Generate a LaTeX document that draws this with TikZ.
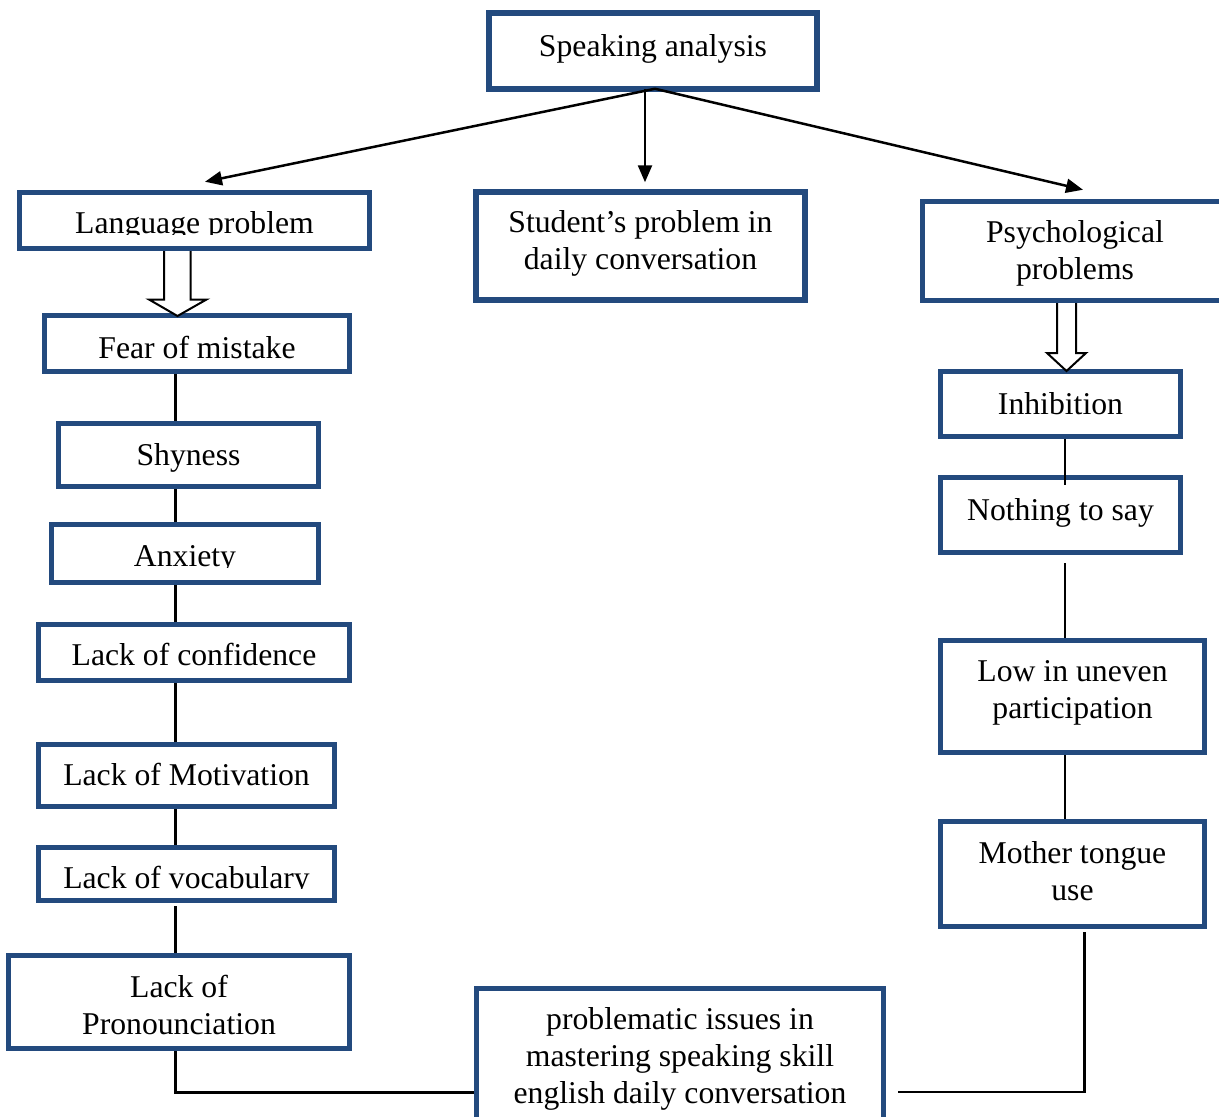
\documentclass[tikz,border=0pt]{standalone}
\usepackage{fontspec}
\setmainfont{Liberation Serif}
\usetikzlibrary{arrows.meta,calc}
\definecolor{boxblue}{RGB}{35,74,126}
\newcommand\mydp[1]{\rule[-#1]{0pt}{#1}}
\newcommand\myht[1]{\rule{0pt}{#1}}
\begin{document}
\begin{tikzpicture}[x=1pt,y=-1pt,
  box/.style={draw=boxblue, line width=5.5pt, fill=white, rectangle, inner sep=0pt,
    text height=23pt, text depth=0pt, font=\fontsize{31.7}{37}\selectfont},
  mbox/.style={draw=boxblue, line width=5.5pt, fill=white, rectangle, inner sep=0pt,
    align=center, font=\fontsize{31.7}{37}\selectfont},
  conn/.style={line width=3pt, draw=black},
  thinconn/.style={line width=2pt, draw=black},
  arr/.style={line width=2.5pt, draw=black, -{Triangle[length=17pt,width=14pt]}},
  hollow/.style={draw=black, line width=2pt, fill=white, line join=miter}]
\useasboundingbox (0,0) rectangle (1219,1117);
\clip (0,0) rectangle (1219,1117);

% top
\node[box, minimum width=328, minimum height=76, text height=10pt] (speak) at (653,51) {Speaking analysis};

% left column
\node[box, minimum width=350, minimum height=56, text height=25pt] (lang) at (194.5,220.5) {Language problem};
\node[box, minimum width=305, minimum height=56, text height=29pt] (fear) at (197,343.5) {Fear of mistake};
\node[box, minimum width=260, minimum height=63, text height=21pt] (shy) at (188.5,455) {Shyness};
\node[box, minimum width=267, minimum height=58, text height=25pt] (anx) at (185,553.5) {Anxiety};
\node[box, minimum width=311, minimum height=56, text height=25pt] (conf) at (194,652.5) {Lack of confidence};
\node[box, minimum width=296, minimum height=62, text height=19pt] (motiv) at (186.5,775.5) {Lack of Motivation};
\node[box, minimum width=296, minimum height=53, text height=28pt] (vocab) at (186.5,874) {Lack of vocabulary};
\node[mbox, minimum width=341, minimum height=93] (pron) at (179,1002) {\myht{27.7pt}Lack of\\Pronounciation};

% middle
\node[mbox, minimum width=329, minimum height=108] (stud) at (640.5,246) {Student’s problem in\\daily conversation\mydp{12pt}};
\node[mbox, minimum width=407, minimum height=141] (issues) at (680,1059) {problematic issues in\\mastering speaking skill\\english daily conversation};

% right column
\node[mbox, minimum width=305, minimum height=99] (psych) at (1075,251) {\myht{27.7pt}Psychological\\problems};
\node[box, minimum width=240, minimum height=65, text height=20pt] (inhib) at (1060.5,404) {Inhibition};
\node[box, minimum width=240, minimum height=75, text height=10pt] (noth) at (1060.5,515) {Nothing to say};
\node[mbox, minimum width=264, minimum height=112] (low) at (1072.5,696.5) {Low in uneven\\participation\mydp{14pt}};
\node[mbox, minimum width=264, minimum height=105] (moth) at (1072.5,874) {Mother tongue\\use\mydp{6pt}};

% descenders cut off inside some boxes, as printed
\fill[white] ($(lang.south west)+(5.5,-5.5)$) rectangle ($(lang.east)+(-5.5,14)$);
\fill[white] ($(anx.south west)+(5.5,-5.5)$) rectangle ($(anx.east)+(-5.5,14.5)$);
\fill[white] ($(vocab.south west)+(5.5,-5.5)$) rectangle ($(vocab.east)+(-5.5,14.5)$);

% arrows from the top box
\coordinate (apex) at ($(speak.south)+(2,-3)$);
\coordinate (tl) at ($(lang.north)+(10.5,-8)$);
\coordinate (tm) at ($(stud.north)+(4.5,-7)$);
\coordinate (tr) at ($(psych.north)+(8,-9)$);
\draw[arr] (apex) -- (tl);
\draw[arr] (apex -| tm) -- (tm);
\draw[arr] (apex) -- (tr);

% hollow block arrows
\draw[hollow] (164,251) -- (164,299.5) -- (149,299.5) -- (177.5,316) -- (206.5,299.5) -- (190.5,299.5) -- (190.5,251);
\draw[hollow] (1057,303) -- (1057,353) -- (1047,353) -- (1066.5,371) -- (1086,353) -- (1076,353) -- (1076,303);

% left chain
\coordinate (lx) at (175,0);
\coordinate (by) at (0,1092);
\draw[conn] (fear.south -| lx) -- (shy.north -| lx);
\draw[conn] (shy.south -| lx) -- (anx.north -| lx);
\draw[conn] (anx.south -| lx) -- (conf.north -| lx);
\draw[conn] (conf.south -| lx) -- (motiv.north -| lx);
\draw[conn] (motiv.south -| lx) -- (vocab.north -| lx);
\draw[conn, shorten <=3pt] (vocab.south -| lx) -- (pron.north -| lx);
\draw[conn] (pron.south -| lx) |- (issues.west |- by);

% right chain
\coordinate (rx) at (1065,0);
\coordinate (rx2) at (1084.5,0);
\draw[thinconn, shorten >=-10pt] (inhib.south -| rx) -- (noth.north -| rx);
\draw[thinconn, shorten <=8pt] (noth.south -| rx) -- (low.north -| rx);
\draw[thinconn] (low.south -| rx) -- (moth.north -| rx);
\draw[line width=2.5pt, shorten <=3pt, shorten >=12pt] (moth.south -| rx2) |- (issues.east |- by);
\end{tikzpicture}
\end{document}
